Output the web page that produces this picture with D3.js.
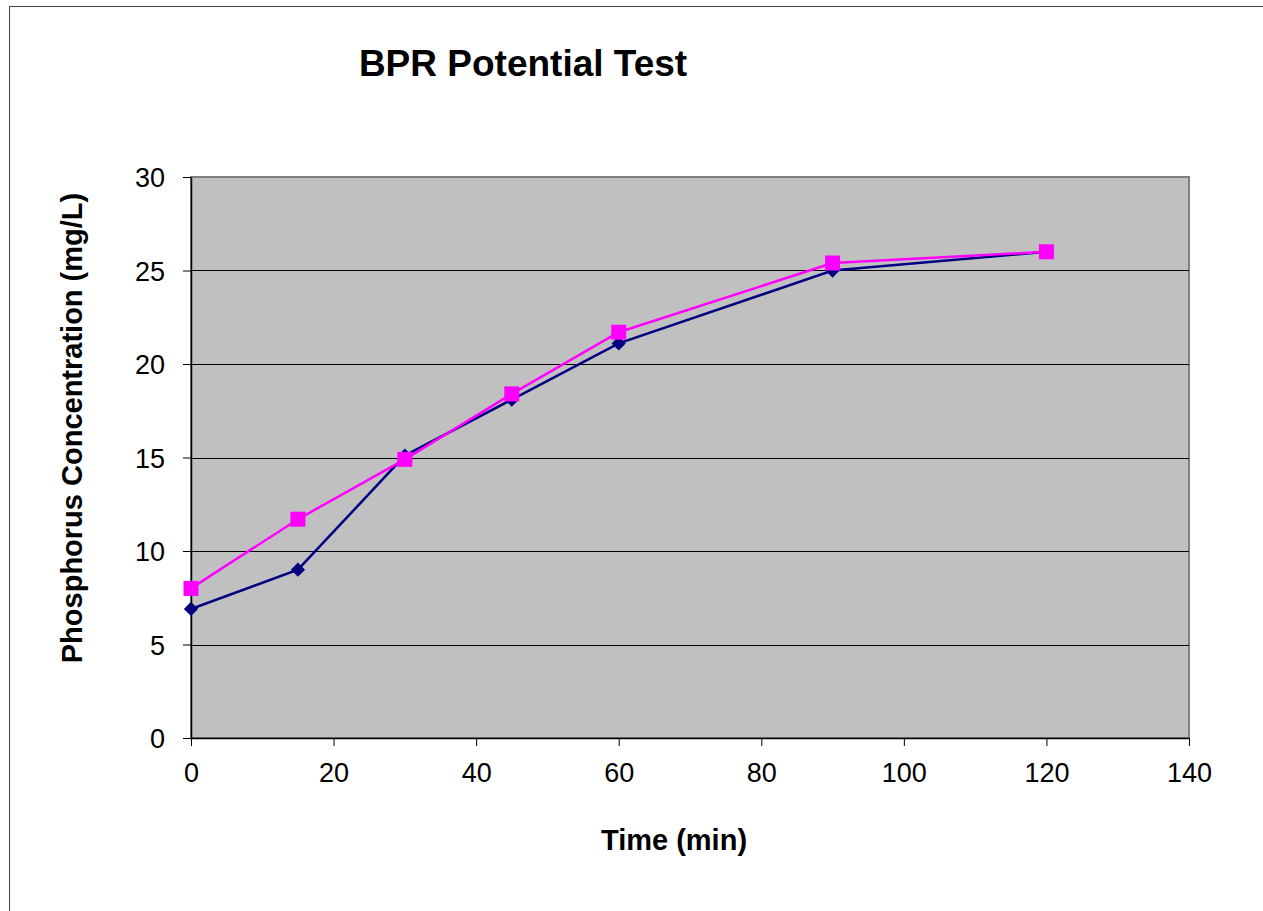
<!DOCTYPE html>
<html>
<head>
<meta charset="utf-8">
<script src="https://cdn.jsdelivr.net/npm/d3@7"></script>
<style>
  body { margin: 0; background: #fff; }
  svg { display: block; font-family: "Liberation Sans", Arial, sans-serif; }
</style>
</head>
<body>
<div id="chart"></div>
<script>
// time points (min)
const times = [0, 15, 30, 45, 60, 90, 120];
// two runs
const seriesA = [6.9, 9.0, 15.1, 18.1, 21.1, 25.0, 26.0];
const seriesB = [8.0, 11.7, 14.9, 18.4, 21.7, 25.4, 26.0];
const xTicks = [0, 20, 40, 60, 80, 100, 120, 140];
const yTicks = [0, 5, 10, 15, 20, 25, 30];

const W = 1263, H = 911;
const margin = { top: 177, right: 74, bottom: 173, left: 191 };
const width = W - margin.left - margin.right,
      height = H - margin.top - margin.bottom;

const svg = d3.select("#chart").append("svg")
    .attr("width", W)
    .attr("height", H);

// outer chart border
svg.append("rect")
    .attr("x", 9.5).attr("y", 6.5)
    .attr("width", W).attr("height", H)
    .attr("fill", "none")
    .attr("stroke", "#444")
    .attr("stroke-width", 1);

const g = svg.append("g")
    .attr("transform", "translate(" + margin.left + "," + margin.top + ")");

const x = d3.scaleLinear().domain([0, 140]).range([0, width]);
const y = d3.scaleLinear().domain([0, 30]).range([height, 0]);

// plot area
g.append("rect")
    .attr("width", width).attr("height", height)
    .attr("fill", "#c0c0c0")
    .attr("stroke", "#808080")
    .attr("stroke-width", 2);

// gridlines
g.selectAll(".grid")
    .data(yTicks.filter(d => d > 0 && d < 30))
    .enter().append("line")
    .attr("x1", 0).attr("x2", width)
    .attr("y1", d => Math.round(y(d)) + 0.5)
    .attr("y2", d => Math.round(y(d)) + 0.5)
    .attr("stroke", "#000")
    .attr("stroke-width", 1);

// axes
const xAxis = g.append("g")
    .attr("transform", "translate(0," + height + ")")
    .call(d3.axisBottom(x).tickValues(xTicks).tickSize(8).tickPadding(17).tickSizeOuter(0));
const yAxis = g.append("g")
    .call(d3.axisLeft(y).tickValues(yTicks).tickSize(8).tickPadding(18).tickSizeOuter(0));

[xAxis, yAxis].forEach(a => {
    a.select(".domain").attr("stroke", "#000").attr("stroke-width", 1.5);
    a.selectAll(".tick line").attr("stroke", "#000");
    a.selectAll(".tick text")
        .attr("fill", "#000")
        .style("font-size", "27px")
        .style("font-family", "'Liberation Sans', Arial, sans-serif");
});
yAxis.selectAll(".tick text").attr("dy", "0.36em");

// lines + markers
const line = d3.line()
    .x((d, i) => x(times[i]))
    .y(d => y(d));

g.append("path")
    .datum(seriesA)
    .attr("d", line)
    .attr("fill", "none")
    .attr("stroke", "#000080")
    .attr("stroke-width", 2.5);

g.selectAll(".ptA")
    .data(seriesA)
    .enter().append("path")
    .attr("d", d3.symbol().type(d3.symbolDiamond2).size(130))
    .attr("transform", (d, i) => "translate(" + x(times[i]) + "," + y(d) + ")")
    .attr("fill", "#000080");

g.append("path")
    .datum(seriesB)
    .attr("d", line)
    .attr("fill", "none")
    .attr("stroke", "#ff00ff")
    .attr("stroke-width", 2.5);

g.selectAll(".ptB")
    .data(seriesB)
    .enter().append("rect")
    .attr("x", (d, i) => x(times[i]) - 7.5)
    .attr("y", d => y(d) - 7.5)
    .attr("width", 15).attr("height", 15)
    .attr("fill", "#ff00ff");

// titles
svg.append("text")
    .attr("x", 523).attr("y", 76)
    .attr("text-anchor", "middle")
    .style("font-size", "37px")
    .style("font-weight", "bold")
    .text("BPR Potential Test");

svg.append("text")
    .attr("x", 674).attr("y", 850)
    .attr("text-anchor", "middle")
    .style("font-size", "29px")
    .style("font-weight", "bold")
    .text("Time (min)");

svg.append("text")
    .attr("transform", "translate(82,428) rotate(-90)")
    .attr("text-anchor", "middle")
    .style("font-size", "29px")
    .style("font-weight", "bold")
    .text("Phosphorus Concentration (mg/L)");
</script>
</body>
</html>
